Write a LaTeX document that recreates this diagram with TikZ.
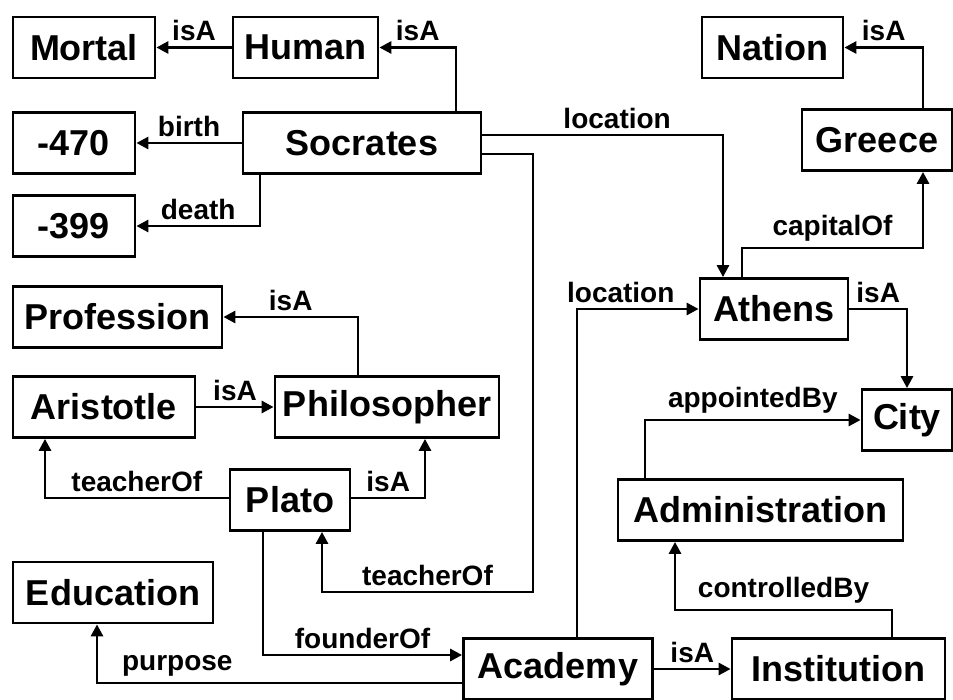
\documentclass[tikz,border=0pt]{standalone}
\usepackage{fontspec}
\setmainfont{Liberation Sans}
\usetikzlibrary{arrows.meta}

\begin{document}
\begin{tikzpicture}[x=1pt, y=-1pt,
    concept/.style={draw, line width=2.8pt, inner sep=0pt, minimum height=61pt,
      font=\bfseries\fontsize{36}{40}\selectfont},
    link/.style={line width=2.8pt, -{Triangle[length=12pt, width=12pt]}},
    rel/.style={font=\bfseries\fontsize{28}{30}\selectfont, inner sep=5pt}]
    % Fix the canvas to the size of the original
    \useasboundingbox (0,0) rectangle (953,699);

    % One concept box: name, x, y, width, label
    \newcommand{\drawConcept}[5]{%
      \node[concept, minimum width=#4] (#1) at (#2,#3) {#5};
    }

    % Concepts
    \drawConcept{mortal}{84}{47.5}{142pt}{Mortal}
    \drawConcept{human}{305.5}{47.5}{145pt}{Human}
    \drawConcept{socrates}{362}{143}{238pt}{Socrates}
    \drawConcept{birthYear}{74}{143}{122pt}{-470}
    \drawConcept{deathYear}{74}{226}{122pt}{-399}
    \drawConcept{nation}{772.5}{47.5}{141pt}{Nation}
    \drawConcept{greece}{877}{140}{150pt}{Greece}
    \drawConcept{athens}{774}{309}{148pt}{Athens}
    \drawConcept{city}{907}{420}{90pt}{City}
    \drawConcept{admin}{760.5}{510}{285pt}{Administration}
    \drawConcept{profession}{117.5}{317}{209pt}{Profession}
    \drawConcept{aristotle}{104}{407}{182pt}{Aristotle}
    \drawConcept{philosopher}{387}{407}{224pt}{Philosopher}
    \drawConcept{plato}{290}{500}{120pt}{Plato}
    \drawConcept{education}{113}{592.5}{200pt}{Education}
    \drawConcept{academy}{558}{669}{189pt}{Academy}
    \drawConcept{institution}{838.5}{669}{213pt}{Institution}

    % Socrates and his relations
    \draw[link] (human) -- node[rel, above] {isA} (mortal);
    \draw[link] (456,0 |- socrates.north) |- node[rel, pos=0.75, above] {isA} (human);
    \draw[link] (socrates) -- node[rel, above] {birth} (birthYear);
    \draw[link] (260,0 |- socrates.south) |- node[rel, pos=0.75, above] {death} (deathYear);
    \draw[link] (socrates.east |- 0,135) -| node[rel, pos=0.28, above] {location} (723,0 |- athens.north);
    \draw[link] (socrates.east |- 0,154) -| (533,592) -| node[rel, pos=0.25, above] {teacherOf} (322,0 |- plato.south);

    % Places
    \draw[link] (923,0 |- greece.north) |- node[rel, pos=0.75, above] {isA} (nation);
    \draw[link] (742,0 |- athens.north) -- (742,248) -| node[rel, pos=0.25, above] {capitalOf} (923,0 |- greece.south);
    \draw[link] (athens) -| node[rel, pos=0.25, above] {isA} (city);
    \draw[link] (645,0 |- admin.north) |- node[rel, pos=0.75, above] {appointedBy} (city);
    \draw[link] (892,0 |- institution.north) -- (892,610) -| node[rel, pos=0.25, above] {controlledBy} (675,0 |- admin.south);

    % Academy
    \draw[link] (academy) -- node[rel, above] {isA} (institution);
    \draw[link] (577,0 |- academy.north) |- node[rel, pos=0.68, above] {location} (athens);
    \draw[link] (academy.west |- 0,683) -| node[rel, pos=0.39, above] {purpose} (97,0 |- education.south);

    % Plato, Aristotle and the profession
    \draw[link] (263,0 |- plato.south) |- node[rel, pos=0.75, above] {founderOf} (academy.west |- 0,655);
    \draw[link] (plato.west |- 0,498) -| node[rel, pos=0.25, above] {teacherOf} (45,0 |- aristotle.south);
    \draw[link] (plato.east |- 0,498) -| node[rel, pos=0.25, above] {isA} (425,0 |- philosopher.south);
    \draw[link] (aristotle) -- node[rel, above] {isA} (philosopher);
    \draw[link] (358,0 |- philosopher.north) |- node[rel, pos=0.75, above] {isA} (profession);
  \end{tikzpicture}
\end{document}
